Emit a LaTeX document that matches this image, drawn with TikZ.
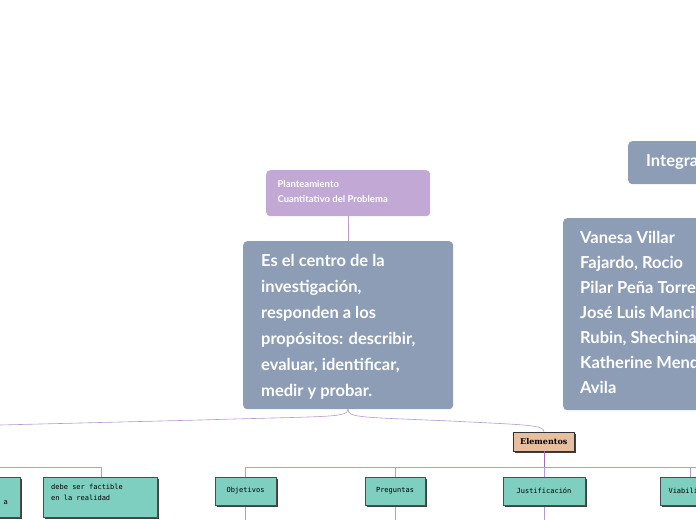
\documentclass[tikz,border=0pt]{standalone}
\usepackage{fontspec}
\setmainfont{Lato}
\setmonofont{DejaVu Sans Mono}
\begin{document}
\begin{tikzpicture}[x=1pt,y=-1pt,
 blue/.style={fill=boxblue,rounded corners=4pt,draw=none,text=white,align=left,anchor=north west,inner sep=0pt},
 teal/.style={fill=tealc,draw=black!70,line width=0.6pt,font=\ttfamily\fontsize{7}{11}\selectfont,align=left,anchor=north west,inner sep=0pt,
   preaction={fill=black!75,transform canvas={xshift=2pt,yshift=-2pt}}},
 ln/.style={draw=lilac,line width=0.6pt}]
\definecolor{boxblue}{HTML}{8C9DB5}
\definecolor{tealc}{HTML}{7ECFC0}
\definecolor{lilac}{HTML}{B49AD0}
\definecolor{titlec}{HTML}{C2A8D4}
\definecolor{elem}{HTML}{E6BFA0}
\useasboundingbox (0,0) rectangle (696,520);
\clip (0,0) rectangle (696,520);
\node[fill=titlec,rounded corners=4pt,text=white,anchor=north west,minimum width=164pt,minimum height=46pt,inner sep=0pt] (t) at (266,170) {};
\node[text=white,anchor=west,align=left,font=\bfseries\fontsize{9.5}{15}\selectfont] at (274,192) {Planteamiento\\Cuantitativo del Problema};
\node[blue,minimum width=210pt,minimum height=168pt] (m) at (243,241) {};
\node[text=white,anchor=north west,align=left,font=\bfseries\fontsize{16.5}{26}\selectfont,inner sep=0pt] at (261,254) {Es el centro de la\\investigación,\\responden a los\\propósitos: describir,\\evaluar, identificar,\\medir y probar.};
\node[blue,minimum width=90pt,minimum height=43pt] (i) at (628,141) {};
\node[text=white,anchor=west,font=\bfseries\fontsize{16.5}{20}\selectfont,inner sep=0pt] at (646,162) {Integrantes};
\node[blue,minimum width=150pt,minimum height=192pt] (n) at (563,218) {};
\node[text=white,anchor=north west,align=left,font=\bfseries\fontsize{16.5}{25}\selectfont,inner sep=0pt] at (580,231) {Vanesa Villar\\Fajardo, Rocio\\Pilar Peña Torres,\\José Luis Mancilla\\Rubin, Shechinah\\Katherine Mendez\\Avila};
\draw[ln] (348,216) -- (348,241);
\draw[ln] (348,409) .. controls (348,418) and (330,416) .. (200,420) -- (0,425);
\draw[ln] (348,409) .. controls (348,418) and (360,417) .. (450,421) .. controls (530,425) and (544,425) .. (544,432);
\node[fill=elem,draw=black!80,line width=0.6pt,anchor=north west,minimum width=61pt,minimum height=19pt,inner sep=0pt,font=\bfseries\fontsize{8}{10}\selectfont,
 preaction={fill=black!75,transform canvas={xshift=2pt,yshift=-2pt}}] (e) at (513,432) {\fontspec{DejaVu Serif}Elementos};
\draw[draw=lilac!70!violet,line width=0.8pt] (544,451) -- (544,467);
\draw[ln] (245,467) -- (696,467);
\draw[ln] (0,467) -- (101,467) -- (101,477);
\foreach \x in {245,395,544,690} \draw[ln] (\x,467) -- (\x,477);
\foreach \x in {245,395,544} \draw[ln] (\x,505) -- (\x,520);
\node[teal,minimum width=40pt,minimum height=40pt] (l) at (-20,477) {};
\node[font=\ttfamily\fontsize{7}{11}\selectfont,anchor=west] at (0,503) {a};
\node[teal,minimum width=114pt,minimum height=40pt] (f) at (43,477) {};
\node[font=\ttfamily\fontsize{7}{11}\selectfont,anchor=north west,align=left,inner sep=0pt] at (51,484) {debe ser factible\\en la realidad};
\node[teal,minimum width=61pt,minimum height=28pt] (o) at (215,477) {};
\node[font=\ttfamily\fontsize{7}{9}\selectfont] at (245.5,491) {Objetivos};
\node[teal,minimum width=60pt,minimum height=28pt] (p) at (365,477) {};
\node[font=\ttfamily\fontsize{7}{9}\selectfont] at (395,491) {Preguntas};
\node[teal,minimum width=82pt,minimum height=28pt] (j) at (503,477) {};
\node[font=\ttfamily\fontsize{7}{9}\selectfont] at (544,491) {Justificación};
\node[teal,minimum width=70pt,minimum height=28pt] (v) at (660,477) {};
\node[font=\ttfamily\fontsize{7}{9}\selectfont,anchor=west] at (665,491) {Viabilidad};
\end{tikzpicture}
\end{document}
